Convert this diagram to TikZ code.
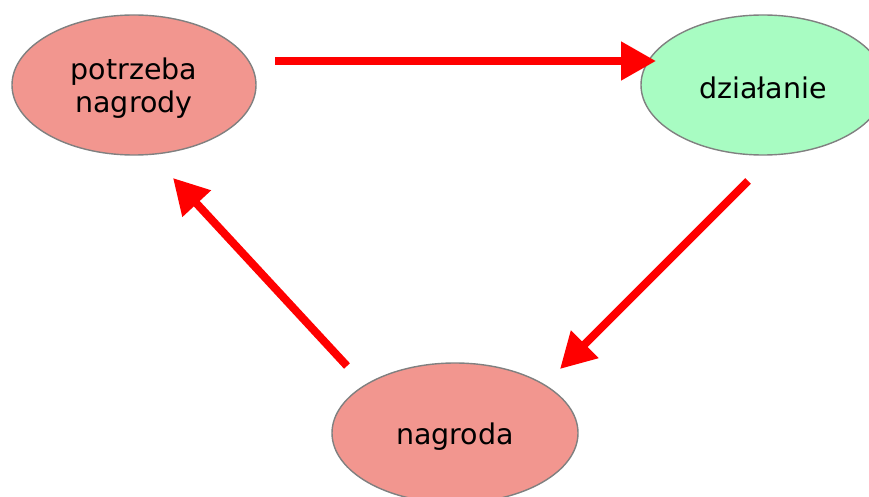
\documentclass[tikz,border=0pt]{standalone}
\usepackage{fontspec}
\setmainfont{DejaVu Sans}
\usetikzlibrary{arrows.meta,shapes.geometric}
\definecolor{pinkfill}{HTML}{F2968F}
\definecolor{greenfill}{HTML}{A8FCC2}
\definecolor{edgegray}{HTML}{808080}
\begin{document}
\begin{tikzpicture}[x=1pt,y=-1pt,
  oval/.style={ellipse,draw=edgegray,line width=1.4pt,minimum width=244pt,minimum height=140pt,inner sep=0pt,align=center,text=black},
  ovaltext/.style={font=\fontsize{28.5}{33}\selectfont,align=center,text=black,inner sep=0pt},
  bigarrow/.style={draw=red,line width=8pt,-{Triangle[length=35pt,width=37pt]}}]
\clip (0,0) rectangle (869,497);
\fill[white] (0,0) rectangle (869,497);
\node[oval,fill=pinkfill] (need) at (134,85) {};
\node[oval,fill=greenfill] (act) at (763,85) {};
\node[oval,fill=pinkfill,minimum width=246pt] (rew) at (455,433) {};
\node[ovaltext] (needtext) at ([yshift=-3pt]need.center) {potrzeba\\nagrody};
\node[ovaltext] (acttext) at ([yshift=-3pt]act.center) {działanie};
\node[ovaltext] (rewtext) at ([yshift=-4pt]rew.center) {nagroda};
\coordinate (a1s) at (275,61);
\coordinate (a1e) at (656,61);
\coordinate (a2s) at (748,181);
\coordinate (a2e) at (560,369);
\coordinate (a3s) at (347,366);
\coordinate (a3e) at (173,178);
\draw[bigarrow] (a1s) -- (a1e);
\draw[bigarrow] (a2s) -- (a2e);
\draw[bigarrow] (a3s) -- (a3e);
\end{tikzpicture}
\end{document}
